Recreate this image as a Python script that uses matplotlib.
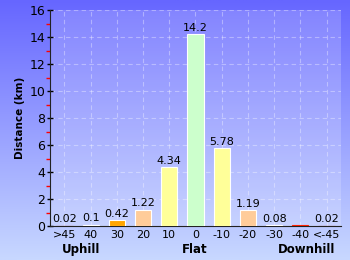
import numpy as np
import matplotlib
matplotlib.use("Agg")
import matplotlib.pyplot as plt

categories = [">45", "40", "30", "20", "10", "0", "-10", "-20", "-30", "-40", "<-45"]
values = [0.02, 0.1, 0.42, 1.22, 4.34, 14.2, 5.78, 1.19, 0.08, 0.04, 0.02]
labels = ["0.02", "0.1", "0.42", "1.22", "4.34", "14.2", "5.78", "1.19", "0.08", "", "0.02"]
colors = ["#ff2200", "#ff6600", "#ffa500", "#ffcc99", "#ffff99", "#ccffcc",
          "#ffff99", "#ffcc99", "#ffa500", "#ff6600", "#ff2200"]
group_labels = ["Uphill", "Flat", "Downhill"]
group_pos = [0.62, 4.97, 9.24]

W, H = 350, 260
fig = plt.figure(figsize=(W / 100, H / 100), dpi=100)

# background gradient
bg = fig.add_axes([0, 0, 1, 1])
grad = np.linspace(0, 1, 256).reshape(-1, 1)
top = np.array([102, 102, 255]) / 255
bot = np.array([200, 216, 255]) / 255
img = top + (bot - top) * grad[:, :, None]
bg.imshow(img, aspect="auto", extent=[0, 1, 0, 1])
bg.axis("off")

x0, x1, y0, y1 = 50, 341, 226, 10
ax = fig.add_axes([x0 / W, 1 - y0 / H, (x1 - x0) / W, (y0 - y1) / H])
ax.patch.set_facecolor("white")
ax.patch.set_alpha(0.18)

xs = np.arange(len(categories))
edges = ["#ff2200" if v < 0.05 else "#ffffff" for v in values]
ax.bar(xs, values, width=0.62, color=colors, edgecolor=edges, linewidth=0.8, zorder=3)
for x, v, l in zip(xs, values, labels):
    if l:
        ax.text(x, v + 0.1, l, ha="center", va="bottom", fontsize=8, color="black",
                zorder=4)

ax.set_xlim(-0.55, len(categories) - 0.45)
ax.set_ylim(0, 16)
ax.set_yticks(np.arange(0, 17, 2))
ax.set_yticks(np.arange(1, 16, 2), minor=True)
ax.tick_params(axis="y", which="major", direction="inout", length=5, width=1, labelsize=9, pad=1)
ax.tick_params(axis="y", which="minor", direction="out", length=3, width=1, color="red")
ax.set_xticks(xs)
ax.set_xticklabels(categories, fontsize=8)
ax.tick_params(axis="x", length=0, pad=3)
ax.grid(True, color="white", alpha=0.35, linestyle=(0, (4, 3)), linewidth=0.8, zorder=0)
ax.set_axisbelow(True)
for s in ["top", "right"]:
    ax.spines[s].set_visible(False)
ax.spines["left"].set_color("#222222")
ax.spines["bottom"].set_color("#222222")

ax.set_ylabel("Distance (km)", fontsize=7.5, fontweight="bold", labelpad=3)
for gl, gp in zip(group_labels, group_pos):
    ax.text(gp, -1.72, gl, ha="center", va="center", fontsize=8.5, fontweight="bold")

fig.savefig("out.png", dpi=100)
